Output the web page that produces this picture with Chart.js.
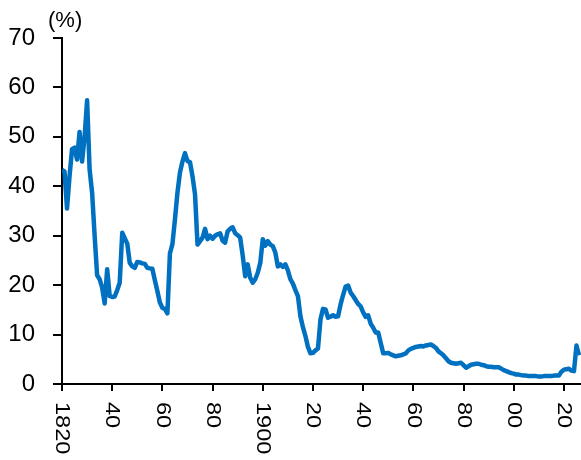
<!DOCTYPE html>
<html>
<head>
<meta charset="utf-8">
<script src="https://cdn.jsdelivr.net/npm/chart.js@4.4.1/dist/chart.umd.min.js"></script>
<style>
  html, body { margin: 0; padding: 0; background: #fff; }
  canvas { display: block; }
</style>
</head>
<body>
<canvas id="chart" width="581" height="460"></canvas>
<script>
// years and share (%)
const years = [
  1820, 1821, 1822, 1823, 1824, 1825, 1826, 1827, 1828, 1829,
  1830, 1831, 1832, 1833, 1834, 1835, 1836, 1837, 1838, 1839,
  1840, 1841, 1842, 1843, 1844, 1845, 1846, 1847, 1848, 1849,
  1850, 1851, 1852, 1853, 1854, 1855, 1856, 1857, 1858, 1859,
  1860, 1861, 1862, 1863, 1864, 1865, 1866, 1867, 1868, 1869,
  1870, 1871, 1872, 1873, 1874, 1875, 1876, 1877, 1878, 1879,
  1880, 1881, 1882, 1883, 1884, 1885, 1886, 1887, 1888, 1889,
  1890, 1891, 1892, 1893, 1894, 1895, 1896, 1897, 1898, 1899,
  1900, 1901, 1902, 1903, 1904, 1905, 1906, 1907, 1908, 1909,
  1910, 1911, 1912, 1913, 1914, 1915, 1916, 1917, 1918, 1919,
  1920, 1921, 1922, 1923, 1924, 1925, 1926, 1927, 1928, 1929,
  1930, 1931, 1932, 1933, 1934, 1935, 1936, 1937, 1938, 1939,
  1940, 1941, 1942, 1943, 1944, 1945, 1946, 1947, 1948, 1949,
  1950, 1951, 1952, 1953, 1954, 1955, 1956, 1957, 1958, 1959,
  1960, 1961, 1962, 1963, 1964, 1965, 1966, 1967, 1968, 1969,
  1970, 1971, 1972, 1973, 1974, 1975, 1976, 1977, 1978, 1979,
  1980, 1981, 1982, 1983, 1984, 1985, 1986, 1987, 1988, 1989,
  1990, 1991, 1992, 1993, 1994, 1995, 1996, 1997, 1998, 1999,
  2000, 2001, 2002, 2003, 2004, 2005, 2006, 2007, 2008, 2009,
  2010, 2011, 2012, 2013, 2014, 2015, 2016, 2017, 2018, 2019,
  2020, 2021, 2022, 2023, 2024, 2025, 2026
];
const values = [
  43.3, 43.0, 35.5, 42.0, 47.5, 47.8, 45.4, 51.0, 45.0, 50.0,
  57.4, 43.4, 38.7, 30.0, 22.0, 21.2, 19.5, 16.3, 23.2, 17.8,
  17.6, 17.7, 19.0, 20.5, 30.6, 29.5, 28.4, 24.5, 23.8, 23.5,
  24.7, 24.6, 24.4, 24.3, 23.5, 23.4, 23.3, 21.0, 18.8, 16.5,
  15.4, 15.2, 14.3, 26.4, 28.3, 33.3, 38.7, 42.8, 45.0, 46.7,
  45.1, 44.9, 42.0, 38.4, 28.2, 28.9, 29.6, 31.4, 29.3, 30.0,
  29.4, 30.0, 30.3, 30.5, 29.0, 28.6, 30.9, 31.4, 31.7, 30.5,
  30.1, 29.6, 26.0, 21.8, 24.2, 21.5, 20.5, 21.2, 22.5, 24.5,
  29.3, 28.0, 28.9, 28.2, 27.9, 26.6, 23.8, 24.2, 23.7, 24.2,
  23.0, 21.2, 20.3, 19.0, 17.8, 13.7, 11.5, 9.7, 7.5, 6.2,
  6.3, 6.8, 7.2, 13.1, 15.2, 15.1, 13.4, 13.6, 13.9, 13.6,
  13.7, 16.1, 18.0, 19.7, 19.9, 18.5, 17.8, 17.0, 16.2, 15.7,
  14.5, 13.6, 13.9, 12.2, 11.4, 10.4, 10.4, 8.3, 6.2, 6.2,
  6.3, 6.0, 5.8, 5.6, 5.7, 5.8, 6.0, 6.2, 6.8, 7.1,
  7.3, 7.5, 7.6, 7.7, 7.6, 7.8, 7.9, 8.0, 7.7, 7.3,
  6.6, 6.2, 5.8, 5.2, 4.6, 4.3, 4.2, 4.1, 4.2, 4.3,
  3.8, 3.3, 3.6, 3.9, 4.0, 4.1, 4.1, 3.9, 3.8, 3.6,
  3.5, 3.5, 3.4, 3.4, 3.4, 3.1, 2.8, 2.6, 2.4, 2.2,
  2.1, 1.9, 1.9, 1.8, 1.7, 1.7, 1.6, 1.6, 1.6, 1.6,
  1.5, 1.5, 1.6, 1.6, 1.6, 1.6, 1.7, 1.7, 1.7, 2.5,
  2.9, 3.0, 3.1, 2.7, 2.6, 7.8, 5.8
];
const xTicks = [1820, 1840, 1860, 1880, 1900, 1920, 1940, 1960, 1980, 2000, 2020];
const xTickLabels = ["1820", "40", "60", "80", "1900", "20", "40", "60", "80", "00", "20"];
const yTicks = [0, 10, 20, 30, 40, 50, 60, 70];
const unitLabel = "(%)";

const FONT = '"Liberation Sans", Arial, sans-serif';

// x labels read top to bottom, so they are drawn here instead of by chart.js
const extraText = {
  id: "extraText",
  afterDraw(chart) {
    const ctx = chart.ctx;
    const xs = chart.scales.x;
    ctx.save();
    ctx.fillStyle = "#000";
    ctx.font = "21px " + FONT;
    xs.ticks.forEach((t, i) => {
      const px = xs.getPixelForValue(t.value);
      ctx.save();
      ctx.translate(px, xs.bottom + 11);
      ctx.rotate(Math.PI / 2);
      ctx.scale(1.12, 1);
      ctx.textAlign = "left";
      ctx.textBaseline = "middle";
      ctx.fillText(xTickLabels[i], 0, 0);
      ctx.restore();
    });
    ctx.font = "22px " + FONT;
    ctx.textAlign = "left";
    ctx.textBaseline = "middle";
    ctx.fillText(unitLabel, 48, 21);
    ctx.restore();
  },
};

new Chart(document.getElementById("chart"), {
  type: "line",
  data: {
    datasets: [
      {
        data: years.map((y, i) => ({ x: y, y: values[i] })),
        borderColor: "#0070c0",
        borderWidth: 4.5,
        pointRadius: 0,
        tension: 0,
        borderJoinStyle: "round",
      },
    ],
  },
  options: {
    responsive: false,
    animation: false,
    layout: { padding: { left: 8, top: 38, right: 0, bottom: 69 } },
    plugins: { legend: { display: false }, tooltip: { enabled: false } },
    scales: {
      x: {
        type: "linear",
        min: 1820,
        max: 2026.8,
        afterBuildTicks: (axis) => {
          axis.ticks = xTicks.map((v) => ({ value: v }));
        },
        ticks: { display: false },
        grid: { drawOnChartArea: false, tickLength: 7, color: "#000", lineWidth: 2 },
        border: { color: "#000", width: 2 },
      },
      y: {
        min: 0,
        max: 70,
        afterBuildTicks: (axis) => {
          axis.ticks = yTicks.map((v) => ({ value: v }));
        },
        afterFit: (axis) => {
          axis.width = 54;
        },
        ticks: { color: "#000", font: { size: 24, family: FONT }, padding: 18 },
        grid: { drawOnChartArea: false, tickLength: 9, color: "#000", lineWidth: 2 },
        border: { color: "#000", width: 2 },
      },
    },
  },
  plugins: [extraText],
});
</script>
</body>
</html>
